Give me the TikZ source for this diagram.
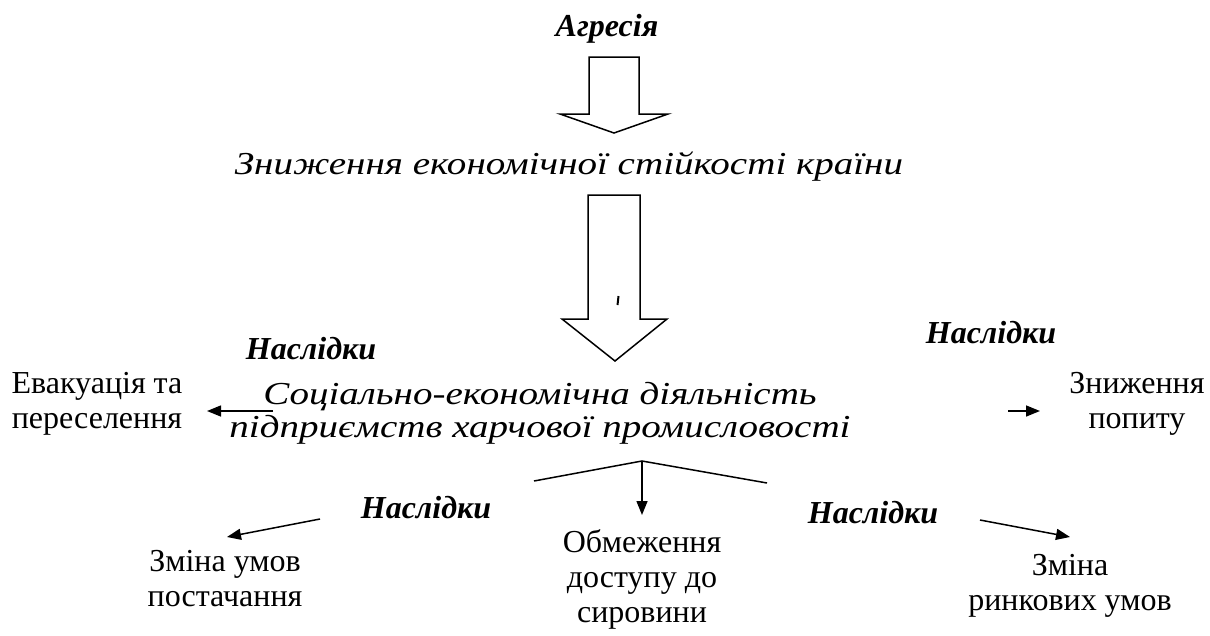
\documentclass[tikz,border=0pt]{standalone}
\usepackage{fontspec}
\setmainfont{Liberation Serif}
\newfontfamily\wideit{Liberation Serif}[FakeStretch=1.22]
\usetikzlibrary{arrows.meta}
\setlength{\lineskiplimit}{-60pt}
\begin{document}
\begin{tikzpicture}[x=1pt,y=-1pt,
  txt/.style={font=\fontsize{32}{35}\selectfont, inner sep=0pt, align=center, anchor=base},
  it/.style={txt, font=\wideit\itshape\fontsize{32}{33}\selectfont},
  bi/.style={txt, font=\fontsize{32}{35}\selectfont\bfseries\itshape},
  con/.style={line width=1.5pt, -{Triangle[length=14pt,width=11pt]}},
  line/.style={line width=1.5pt},
  block/.style={line width=1.5pt, draw, fill=white, line join=miter}]
\useasboundingbox (0,0) rectangle (1210,635);

% block arrows
\draw[block] (589,57) -- (639,57) -- (639,114) -- (668,114) -- (614,133) -- (560,114) -- (589,114) -- cycle;
\draw[block] (588,195) -- (640,195) -- (640,319) -- (667,319) -- (615,361) -- (562,319) -- (588,319) -- cycle;
\draw[line width=2pt] (618.5,296) -- (617.5,305);

% texts
\node[bi] (agr) at (607,36) {Агресія};
\node[it] (zn) at (569,174) {Зниження економічної стійкості країни};
\node[it] (soc) at (540,437) {Соціально-економічна діяльність\\підприємств харчової промисловості};
\node[bi] (n1) at (311,359) {Наслідки};
\node[bi] (n2) at (991,343) {Наслідки};
\node[bi] (n3) at (426,518) {Наслідки};
\node[bi] (n4) at (873,523) {Наслідки};
\node[txt] (ev) at (97,428) {Евакуація та\\переселення};
\node[txt] (pp) at (1137,428) {Зниження\\попиту};
\node[txt] (ob) at (642,622) {Обмеження\\доступу до\\сировини};
\node[txt] (zu) at (225,606) {Зміна умов\\постачання};
\node[txt] (zr) at (1070,610) {Зміна\\ринкових умов};

% connectors
\coordinate (l1) at (273,411); \coordinate (l2) at (207,411);
\coordinate (r1) at (1008,411); \coordinate (r2) at (1040,411);
\coordinate (apex) at (642,461);
\coordinate (bl) at (534,481); \coordinate (br) at (767,483);
\coordinate (down) at (642,515);
\coordinate (a1) at (320,519); \coordinate (a2) at (227,537);
\coordinate (b1) at (980,520); \coordinate (b2) at (1070,537);
\draw[con] (l1) -- (l2);
\draw[con] (r1) -- (r2);
\draw[line] (bl) -- (apex) -- (br);
\draw[con] (apex) -- (down);
\draw[con] (a1) -- (a2);
\draw[con] (b1) -- (b2);
\end{tikzpicture}
\end{document}
